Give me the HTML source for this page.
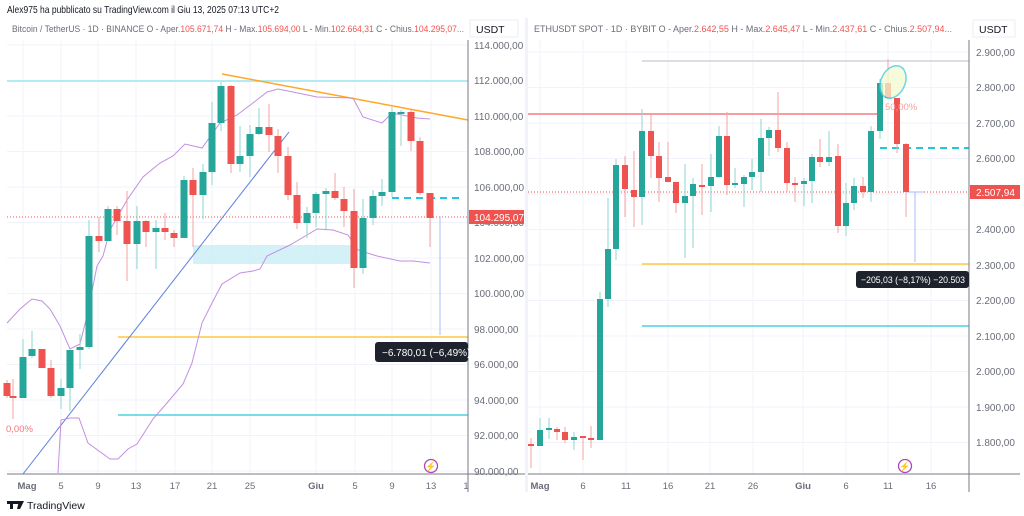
<!DOCTYPE html>
<html><head><meta charset="utf-8"><style>
body{margin:0;background:#fff;width:1024px;height:516px;overflow:hidden;font-family:"Liberation Sans",sans-serif}
svg{display:block}
</style></head><body>
<svg id="s" width="1024" height="516" xmlns="http://www.w3.org/2000/svg" font-family="Liberation Sans, sans-serif">
<rect width="1024" height="516" fill="#fff"/>
<g id="grid" stroke="#f0f3fa" stroke-width="1"></g>
<g id="draw"></g>
<g id="c"></g>
<g id="top"></g>
</svg>
<script>
const NS="http://www.w3.org/2000/svg";
function el(p,t,a,txt){const e=document.createElementNS(NS,t);for(const k in a)e.setAttribute(k,a[k]);if(txt!==undefined)e.textContent=txt;document.getElementById(p).appendChild(e);return e;}
const G='#26a69a',R='#ef5350';
for(let i=0;i<=12;i++){const y=45+i*35.5;el('grid','line',{x1:7,x2:468,y1:y,y2:y});}
[23,61,98,136,175,212,250,316,355,392,431].forEach(x=>el('grid','line',{x1:x,x2:x,y1:40,y2:474}));
for(let i=0;i<=11;i++){const y=52+i*35.5;el('grid','line',{x1:528,x2:969,y1:y,y2:y});}
[540,583,626,668,710,753,803,846,888,931].forEach(x=>el('grid','line',{x1:x,x2:x,y1:40,y2:474}));
el('draw','rect',{x:193,y:245,width:162,height:19,fill:'#c9edf6',opacity:.8});
el('draw','line',{x1:7,x2:468,y1:81,y2:81,stroke:'#b2ebf2','stroke-width':2});
el('draw','line',{x1:118,x2:468,y1:337,y2:337,stroke:'#ffc83d','stroke-width':1.5});
el('draw','line',{x1:118,x2:468,y1:415,y2:415,stroke:'#4dd0e1','stroke-width':1.5});
el('draw','line',{x1:23,x2:289,y1:474,y2:132,stroke:'#5b7fe0','stroke-width':1});
el('draw','line',{x1:222,x2:468,y1:74,y2:120,stroke:'#ffa726','stroke-width':1.5});
el('draw','line',{x1:7,x2:468,y1:217,y2:217,stroke:'#ef5350','stroke-width':1,'stroke-dasharray':'1 2'});
el('draw','line',{x1:392,x2:462,y1:198,y2:198,stroke:'#26c6da','stroke-width':2,'stroke-dasharray':'7 5'});
el('draw','line',{x1:440,x2:440,y1:216,y2:335,stroke:'#a8bdf5','stroke-width':1});
const up=[[7,323],[20,309],[32,299],[42,301],[50,309],[60,326],[70,349],[80,344],[87,316],[97,266],[103,256],[110,230],[127,200],[143,177],[160,163],[173,156],[185,144],[202,148],[220,123],[237,115],[253,103],[267,92],[278,89],[293,92],[317,97],[353,98],[363,117],[382,123],[392,113],[417,118],[430,119]];
const lo=[[58,473],[61,420],[70,418],[79,418],[88,443],[110,459],[118,459],[128,449],[137,444],[153,419],[167,403],[183,384],[192,363],[202,323],[212,303],[222,284],[240,273],[253,271],[260,269],[267,256],[290,245],[307,235],[317,229],[333,230],[348,235],[358,250],[377,256],[400,261],[413,261],[430,263]];
[up,lo].forEach(p=>el('draw','polyline',{points:p.map(a=>a.join(',')).join(' '),fill:'none',stroke:'#c38fe0','stroke-width':1}));
const L=[[7,383,396,380,398,R],[13,396,398,379,419,R],[23,357,398,339,398,G],[32,349,356,331,358,G],[42,349,368,349,368,R],[51,368,396,360,398,R],[61,388,396,379,409,G],[70,350,388,350,411,G],[80,347,350,334,369,G],[89,236,347,220,349,G],[99,236,241,217,252,R],[108,209,241,206,241,G],[117,209,221,206,235,R],[127,221,244,191,281,R],[137,221,244,206,269,G],[146,221,232,220,247,R],[156,228,232,220,269,G],[165,228,232,213,240,R],[174,233,238,230,247,R],[184,180,238,176,238,G],[193,180,195,168,247,R],[203,172,195,164,219,G],[212,123,172,102,185,G],[221,86,123,82,131,G],[231,86,164,85,173,R],[240,156,164,126,172,G],[250,134,156,125,177,G],[259,127,134,108,135,G],[269,127,135,104,152,R],[278,136,156,129,173,R],[288,156,195,147,200,R],[297,195,223,182,229,R],[307,213,223,207,238,G],[316,194,213,192,227,G],[326,191,194,188,229,G],[335,191,198,173,200,R],[344,199,211,187,227,R],[354,211,268,189,288,R],[363,218,268,199,274,G],[373,196,218,190,225,G],[382,192,196,179,206,G],[392,112,192,107,197,G],[401,112,113,110,146,G],[411,112,141,110,151,R],[420,141,193,137,195,R],[430,193,218,193,247,R]];
function candles(arr,w){arr.forEach(c=>{const[x,bt,bb,wt,wb,col]=c;const lc=col==G?'#8ed6cf':'#f5a3a1';el('c','line',{x1:x,x2:x,y1:wt,y2:wb,stroke:lc,'stroke-width':1});el('c','rect',{x:x-w/2,y:bt,width:w,height:Math.max(2,bb-bt),fill:col});});}
candles(L,7);
el('draw','line',{x1:642,x2:969,y1:61,y2:61,stroke:'#d1d4dc','stroke-width':1.5});
el('draw','line',{x1:528,x2:880,y1:114,y2:114,stroke:'#f77c80','stroke-width':1.5});
el('draw','line',{x1:880,x2:969,y1:148,y2:148,stroke:'#26c6da','stroke-width':2,'stroke-dasharray':'7 5'});
el('draw','line',{x1:642,x2:969,y1:264,y2:264,stroke:'#ffc83d','stroke-width':1.5});
el('draw','line',{x1:642,x2:969,y1:326,y2:326,stroke:'#4dd0e1','stroke-width':1.5});
el('draw','line',{x1:528,x2:969,y1:192,y2:192,stroke:'#ef5350','stroke-width':1,'stroke-dasharray':'1 2'});
el('draw','line',{x1:906,x2:924,y1:192,y2:192,stroke:'#a8bdf5','stroke-width':1});
el('draw','line',{x1:915,x2:915,y1:192,y2:262,stroke:'#a8bdf5','stroke-width':1});
const RC=[[531,444,446,438,468,R],[540,430,446,418,446,G],[549,428,430,418,439,G],[557,429,432,427,440,R],[565,432,440,427,443,R],[574,437,440,432,450,G],[583,436,438,436,460,R],[591,438,440,426,448,R],[600,299,440,292,440,G],[608,249,299,198,307,G],[616,165,249,159,260,G],[625,165,189,156,217,R],[634,190,197,151,227,R],[642,131,197,109,225,G],[651,131,156,115,178,R],[659,156,178,142,202,R],[668,177,182,142,182,R],[676,182,203,182,213,R],[685,196,203,164,258,G],[693,184,196,178,248,G],[702,185,187,164,215,R],[711,177,186,154,212,G],[719,136,177,126,178,G],[727,136,185,112,195,R],[735,183,185,168,188,G],[744,177,184,175,207,G],[752,172,177,159,190,G],[761,138,172,119,192,G],[769,130,138,127,156,G],[778,130,148,92,152,R],[787,148,183,142,192,R],[795,183,185,177,202,R],[804,181,184,178,206,G],[812,157,181,154,203,G],[820,157,162,139,167,R],[829,157,162,131,166,G],[838,156,226,144,233,R],[846,203,226,183,236,G],[854,186,203,178,210,G],[863,186,192,177,198,R],[871,131,192,126,202,G],[880,83,131,79,139,G],[888,83,98,59,98,R],[897,98,144,98,153,R],[906,144,192,143,217,R]];
candles(RC,6);
el('top','ellipse',{cx:893,cy:82,rx:12,ry:17,transform:'rotate(25 893 82)',fill:'#f4fbd0',opacity:.75,stroke:'#3cc8e0','stroke-width':1.5});
</script>
<svg style="position:absolute;left:0;top:0" width="1024" height="516" xmlns="http://www.w3.org/2000/svg" font-family="Liberation Sans, sans-serif">
<line x1="468" y1="40" x2="468" y2="492" stroke="#787b86" stroke-width="1"/>
<line x1="7" y1="474" x2="525" y2="474" stroke="#787b86" stroke-width="1"/>
<line x1="969" y1="40" x2="969" y2="492" stroke="#787b86" stroke-width="1"/>
<line x1="528" y1="474" x2="1020" y2="474" stroke="#787b86" stroke-width="1"/>
<line x1="526.5" y1="18" x2="526.5" y2="492" stroke="#f0f3fa" stroke-width="3"/>
<text x="7" y="13" font-size="10.5" fill="#131722" textLength="272" lengthAdjust="spacingAndGlyphs">Alex975 ha pubblicato su TradingView.com il Giu 13, 2025 07:13 UTC+2</text>
<text x="12" y="32" font-size="9.6" fill="#6a6d78" textLength="452" lengthAdjust="spacingAndGlyphs">Bitcoin / TetherUS · 1D · BINANCE  O - Aper.<tspan fill="#ef5350">105.671,74</tspan>  H - Max.<tspan fill="#ef5350">105.694,00</tspan>  L - Min.<tspan fill="#ef5350">102.664,31</tspan>  C - Chius.<tspan fill="#ef5350">104.295,07...</tspan></text>
<text x="534" y="32" font-size="9.6" fill="#6a6d78" textLength="418" lengthAdjust="spacingAndGlyphs">ETHUSDT SPOT · 1D · BYBIT  O - Aper.<tspan fill="#ef5350">2.642,55</tspan>  H - Max.<tspan fill="#ef5350">2.645,47</tspan>  L - Min.<tspan fill="#ef5350">2.437,61</tspan>  C - Chius.<tspan fill="#ef5350">2.507,94...</tspan></text>
<rect x="470" y="20" width="48" height="17" fill="#fff" stroke="#eceef2"/>
<text x="476" y="33" font-size="10.5" fill="#131722">USDT</text>
<rect x="973" y="20" width="42" height="17" fill="#fff" stroke="#eceef2"/>
<text x="979" y="33" font-size="10.5" fill="#131722">USDT</text>
<g font-size="10" fill="#6a6d78">
<text x="474" y="49">114.000,00</text><text x="474" y="84">112.000,00</text><text x="474" y="120">110.000,00</text><text x="474" y="155">108.000,00</text><text x="474" y="191">106.000,00</text><text x="474" y="226">104.000,00</text><text x="474" y="262">102.000,00</text><text x="474" y="297">100.000,00</text><text x="474" y="333">98.000,00</text><text x="474" y="368">96.000,00</text><text x="474" y="404">94.000,00</text><text x="474" y="439">92.000,00</text><text x="474" y="475">90.000,00</text>
<text x="976" y="56">2.900,00</text><text x="976" y="91">2.800,00</text><text x="976" y="127">2.700,00</text><text x="976" y="162">2.600,00</text><text x="976" y="233">2.400,00</text><text x="976" y="269">2.300,00</text><text x="976" y="304">2.200,00</text><text x="976" y="340">2.100,00</text><text x="976" y="375">2.000,00</text><text x="976" y="411">1.900,00</text><text x="976" y="446">1.800,00</text>
</g>
<rect x="469" y="210" width="55" height="14" fill="#ef5350"/>
<text x="474" y="221" font-size="10" fill="#fff">104.295,07</text>
<rect x="970" y="185" width="50" height="14" fill="#ef5350"/>
<text x="976" y="196" font-size="10" fill="#fff">2.507,94</text>
<g font-size="9.5" fill="#6a6d78" text-anchor="middle">
<text x="27" y="489" font-weight="bold">Mag</text><text x="61" y="489">5</text><text x="98" y="489">9</text><text x="136" y="489">13</text><text x="175" y="489">17</text><text x="212" y="489">21</text><text x="250" y="489">25</text><text x="316" y="489" font-weight="bold">Giu</text><text x="355" y="489">5</text><text x="392" y="489">9</text><text x="431" y="489">13</text><text x="466" y="489">1</text>
<text x="540" y="489" font-weight="bold">Mag</text><text x="583" y="489">6</text><text x="626" y="489">11</text><text x="668" y="489">16</text><text x="710" y="489">21</text><text x="753" y="489">26</text><text x="803" y="489" font-weight="bold">Giu</text><text x="846" y="489">6</text><text x="888" y="489">11</text><text x="931" y="489">16</text>
</g>
<rect x="375" y="342" width="93" height="20" rx="3" fill="#1e222d"/>
<text x="382" y="356" font-size="10" fill="#fff">−6.780,01 (−6,49%) −6</text>
<rect x="856" y="271" width="113" height="17" rx="3" fill="#1e222d"/>
<text x="861" y="283" font-size="9.5" fill="#fff" textLength="104" lengthAdjust="spacingAndGlyphs">−205,03 (−8,17%) −20.503</text>
<text x="6" y="432" font-size="9.5" fill="#f7767a">0,00%</text>
<text x="885" y="110" font-size="9.5" fill="#f7a0a2">50,00%</text>
<circle cx="431" cy="466" r="6.5" fill="none" stroke="#ab47bc" stroke-width="1.3"/>
<text x="431" y="469.5" font-size="9" fill="#ab47bc" text-anchor="middle">⚡</text>
<circle cx="905" cy="466" r="6.5" fill="none" stroke="#ab47bc" stroke-width="1.3"/>
<text x="905" y="469.5" font-size="9" fill="#ab47bc" text-anchor="middle">⚡</text>
<rect x="7" y="501" width="10" height="3" fill="#131722"/><rect x="10" y="501" width="3" height="8" fill="#131722"/><circle cx="18" cy="502.5" r="1.6" fill="#131722"/><polygon points="19,501 24,501 20,509 17,509" fill="#131722"/>
<text x="27" y="509" font-size="10.5" fill="#131722">TradingView</text>
</svg>
</body></html>
